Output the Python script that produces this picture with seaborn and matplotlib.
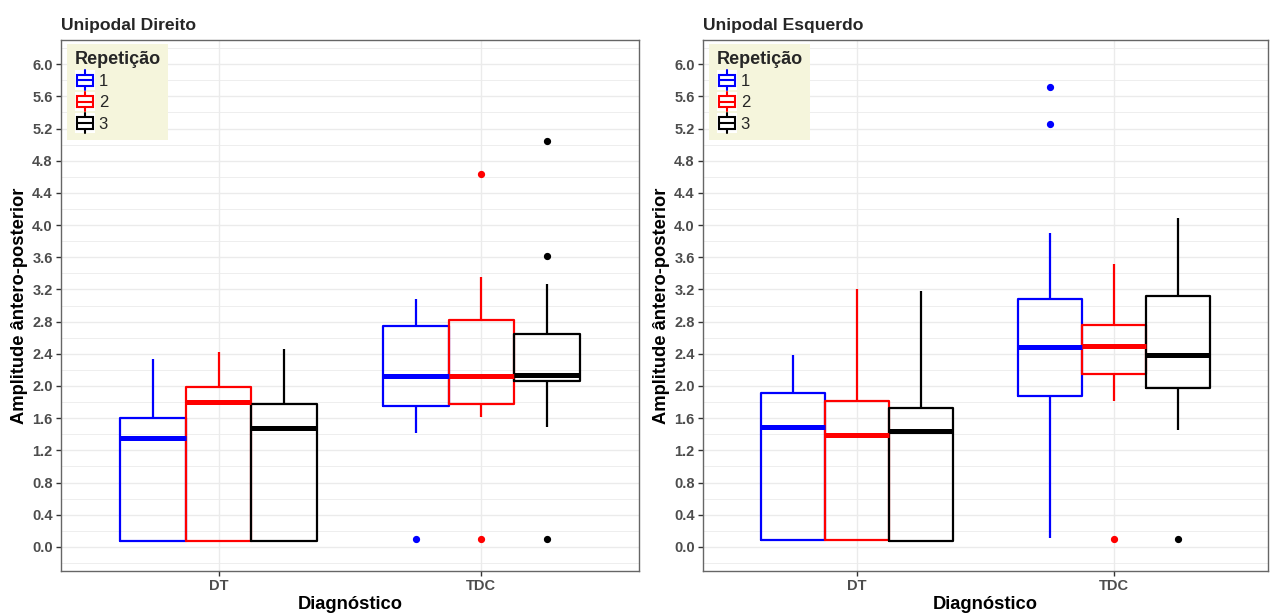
import numpy as np
import pandas as pd
import matplotlib
matplotlib.use("Agg")
import matplotlib.pyplot as plt
import seaborn as sns
from matplotlib.patches import Rectangle, Patch
from matplotlib.lines import Line2D
from matplotlib.legend_handler import HandlerBase
from matplotlib.ticker import FixedLocator

# ---------------- data ----------------
diagnosticos = ["DT", "TDC"]
repeticoes = ["1", "2", "3"]
cores = ["#0000FF", "#FF0000", "#000000"]
titulos = ["Unipodal Direito", "Unipodal Esquerdo"]
yticks = [0.0, 0.4, 0.8, 1.2, 1.6, 2.0, 2.4, 2.8, 3.2, 3.6, 4.0, 4.4, 4.8, 5.2, 5.6, 6.0]

# Unipodal Direito
dir_dt_1 = [0.07, 0.07, 0.07, 0.07, 0.45, 0.90, 1.35, 1.45, 1.52, 1.60, 1.85, 2.10, 2.34]
dir_dt_2 = [0.07, 0.07, 0.07, 0.07, 0.60, 1.20, 1.80, 1.88, 1.94, 1.99, 2.15, 2.30, 2.42]
dir_dt_3 = [0.07, 0.07, 0.07, 0.07, 0.55, 1.00, 1.48, 1.60, 1.70, 1.78, 2.00, 2.25, 2.46]
dir_tdc_1 = [0.10, 1.42, 1.60, 1.755, 1.85, 2.00, 2.12, 2.35, 2.55, 2.75, 2.85, 2.95, 3.08]
dir_tdc_2 = [0.10, 1.61, 1.70, 1.77, 1.90, 2.00, 2.12, 2.40, 2.60, 2.82, 3.00, 3.35, 4.64]
dir_tdc_3 = [0.10, 1.49, 1.80, 2.06, 2.09, 2.12, 2.14, 2.35, 2.50, 2.64, 3.27, 3.62, 5.04]

# Unipodal Esquerdo
esq_dt_1 = [0.07, 0.08, 0.08, 0.08, 0.50, 1.00, 1.49, 1.65, 1.80, 1.91, 2.10, 2.25, 2.39]
esq_dt_2 = [0.07, 0.08, 0.08, 0.08, 0.50, 0.95, 1.39, 1.55, 1.70, 1.81, 2.30, 2.80, 3.21]
esq_dt_3 = [0.07, 0.07, 0.07, 0.07, 0.50, 0.95, 1.44, 1.55, 1.65, 1.73, 2.20, 2.70, 3.18]
esq_tdc_1 = [0.11, 1.20, 1.60, 1.88, 2.10, 2.30, 2.48, 2.70, 2.90, 3.08, 3.90, 5.25, 5.71]
esq_tdc_2 = [0.10, 1.81, 2.00, 2.15, 2.30, 2.40, 2.50, 2.60, 2.70, 2.76, 3.00, 3.30, 3.51]
esq_tdc_3 = [0.10, 1.45, 1.70, 1.97, 2.10, 2.25, 2.38, 2.60, 2.90, 3.12, 3.50, 3.80, 4.09]

paineis = [
    {("DT", "1"): dir_dt_1, ("DT", "2"): dir_dt_2, ("DT", "3"): dir_dt_3,
     ("TDC", "1"): dir_tdc_1, ("TDC", "2"): dir_tdc_2, ("TDC", "3"): dir_tdc_3},
    {("DT", "1"): esq_dt_1, ("DT", "2"): esq_dt_2, ("DT", "3"): esq_dt_3,
     ("TDC", "1"): esq_tdc_1, ("TDC", "2"): esq_tdc_2, ("TDC", "3"): esq_tdc_3},
]


def to_frame(d):
    rows = []
    for (dg, rp), vals in d.items():
        for v in vals:
            rows.append({"Diagnóstico": dg, "Repetição": rp, "valor": v})
    return pd.DataFrame(rows)


# ---------------- style ----------------
sns.set_theme(style="white")
plt.rcParams["font.family"] = ["Liberation Sans", "DejaVu Sans"]


class BoxKeyHandler(HandlerBase):
    def create_artists(self, legend, orig_handle, xdescent, ydescent,
                       width, height, fontsize, trans):
        c = orig_handle.get_edgecolor()
        x0, y0 = -xdescent, -ydescent
        arts = []
        bg = Rectangle((x0, y0), width, height, facecolor="white",
                       edgecolor="none", transform=trans)
        arts.append(bg)
        box = Rectangle((x0 + width * 0.12, y0 + height * 0.22), width * 0.76,
                        height * 0.56, facecolor="white", edgecolor=c,
                        linewidth=1.5, transform=trans)
        arts.append(box)
        xm = x0 + width / 2
        arts.append(Line2D([xm, xm], [y0, y0 + height * 0.22], color=c, lw=1.5, transform=trans))
        arts.append(Line2D([xm, xm], [y0 + height * 0.78, y0 + height], color=c, lw=1.5, transform=trans))
        arts.append(Line2D([x0 + width * 0.12, x0 + width * 0.88], [y0 + height / 2] * 2,
                           color=c, lw=1.5, transform=trans))
        return arts


W, H = 1270, 614
fig = plt.figure(figsize=(W / 100, H / 100), dpi=100)
axes_px = [(61, 40, 578, 531), (703, 40, 565, 531)]

for i, (px, tit) in enumerate(zip(axes_px, titulos)):
    l, t, w, h = px
    ax = fig.add_axes([l / W, (H - t - h) / H, w / W, h / H])
    df = to_frame(paineis[i])
    sns.boxplot(data=df, x="Diagnóstico", y="valor", hue="Repetição",
                order=diagnosticos, hue_order=repeticoes, palette=cores,
                fill=False, width=0.75, gap=0, dodge=True, linewidth=1.6,
                showcaps=False, whis=1.5,
                flierprops=dict(marker="o", markersize=4.2),
                medianprops=dict(linewidth=3.6),
                legend=False, ax=ax)
    for ln in ax.lines:
        m = ln.get_marker()
        if m not in (None, "None", "", " "):
            ln.set_markerfacecolor(ln.get_markeredgecolor())

    ax.set_xlim(-0.6, 1.6)
    ax.set_ylim(-0.3, 6.3)
    ax.set_yticks(yticks)
    ax.set_yticklabels([f"{v:.1f}" for v in yticks])
    ax.yaxis.set_minor_locator(FixedLocator([v + 0.2 for v in [-0.4] + yticks]))
    ax.set_axisbelow(True)
    ax.grid(which="major", axis="both", color="#EBEBEB", lw=1.0)
    ax.grid(which="minor", axis="y", color="#EBEBEB", lw=0.6)
    ax.tick_params(axis="both", which="major", length=3.5, width=1.0, color="#333333",
                   labelsize=10.5, labelcolor="#4D4D4D", pad=2.5, bottom=True, left=True)
    ax.tick_params(which="minor", length=0)
    for lb in ax.get_xticklabels() + ax.get_yticklabels():
        lb.set_fontweight("bold")
    for sp in ax.spines.values():
        sp.set_visible(True)
        sp.set_color("#666666")
        sp.set_linewidth(1.0)
    ax.set_xlabel("Diagnóstico", fontsize=13.2, fontweight="bold", color="black", labelpad=2)
    ax.set_ylabel("Amplitude ântero-posterior", fontsize=13.2, fontweight="bold",
                  color="black", labelpad=3)
    ax.set_title(tit, loc="left", fontsize=12.6, fontweight="bold", pad=7)

    handles = [Patch(edgecolor=c, facecolor="white") for c in cores]
    leg = ax.legend(handles, repeticoes, title="Repetição", loc="upper left",
                    bbox_to_anchor=(6 / w, 1 - 4 / h), borderaxespad=0,
                    handler_map={Patch: BoxKeyHandler()}, frameon=True,
                    fancybox=False, fontsize=12, title_fontsize=13,
                    handlelength=1.25, handleheight=1.45, handletextpad=0.2,
                    labelspacing=0.1, borderpad=0.45)
    leg.get_title().set_fontweight("bold")
    leg._legend_box.align = "left"
    fr = leg.get_frame()
    fr.set_facecolor("#F5F5DC")
    fr.set_edgecolor("none")
    fr.set_alpha(1)

fig.savefig("out.png", dpi=100)
